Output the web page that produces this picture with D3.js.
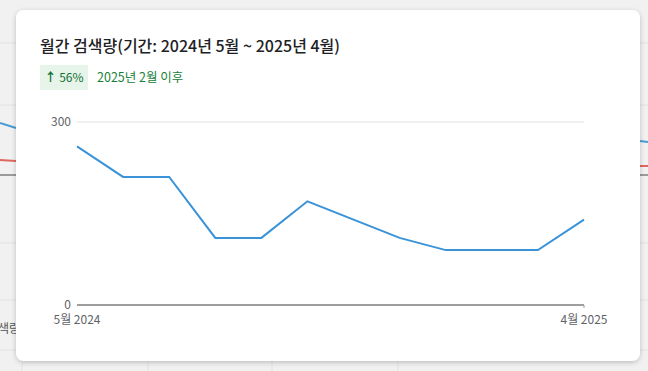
<!DOCTYPE html>
<html>
<head>
<meta charset="utf-8">
<script src="https://cdn.jsdelivr.net/npm/d3@7"></script>
<style>
  html, body { margin: 0; padding: 0; background: #f1f1f1; }
  svg { display: block; font-family: "Noto Sans CJK KR", "Noto Sans", sans-serif; }
</style>
</head>
<body>
<svg id="chart" width="648" height="371"></svg>
<script>
// monthly search volume, May 2024 .. Apr 2025
var months = ["2024-05","2024-06","2024-07","2024-08","2024-09","2024-10","2024-11","2024-12","2025-01","2025-02","2025-03","2025-04"];
var volume = [260, 210, 210, 110, 110, 170, 140, 110, 90, 90, 90, 140];
var yTicks = [0, 300];
var xTickLabels = ["5월 2024", "4월 2025"];

var title = "월간 검색량(기간: 2024년 5월 ~ 2025년 4월)";
var badgeArrow = "↑", badgeText = "56%";
var sinceText = "2025년 2월 이후";

var W = 648, H = 371;
var svg = d3.select('#chart');

// page behind the card (faded)
var bg = svg.append('g');
bg.append('rect').attr('width', W).attr('height', H).attr('fill', '#f1f1f1');
[43, 105, 243, 300, 350].forEach(function(y){
  bg.append('line').attr('x1', 0).attr('x2', W).attr('y1', y).attr('y2', y)
    .attr('stroke', '#e2e2e2');
});
[22, 148, 272, 398].forEach(function(x){
  bg.append('line').attr('x1', x).attr('x2', x).attr('y1', 350).attr('y2', H)
    .attr('stroke', '#e2e2e2');
});
bg.append('path').attr('d', 'M0,123 L16,128').attr('stroke', '#4a9bd6').attr('stroke-width', 2).attr('fill', 'none');
bg.append('path').attr('d', 'M640,141 L648,142').attr('stroke', '#4a9bd6').attr('stroke-width', 2).attr('fill', 'none');
bg.append('path').attr('d', 'M0,160 L16,161').attr('stroke', '#e0675f').attr('stroke-width', 2).attr('fill', 'none');
bg.append('path').attr('d', 'M640,166 L648,166').attr('stroke', '#e0675f').attr('stroke-width', 2).attr('fill', 'none');
bg.append('path').attr('d', 'M0,175 L16,175 M640,175 L648,175').attr('stroke', '#9a9a9a').attr('stroke-width', 2).attr('fill', 'none');
bg.append('text').attr('x', -2).attr('y', 333).attr('font-size', 12).attr('fill', '#555').text('색량');

// card
var defs = svg.append('defs');
var f = defs.append('filter').attr('id', 'sh').attr('x', '-5%').attr('y', '-5%').attr('width', '110%').attr('height', '115%');
f.append('feDropShadow').attr('dx', 0).attr('dy', 1.5).attr('stdDeviation', 2.5)
  .attr('flood-color', '#000').attr('flood-opacity', 0.22);
svg.append('rect').attr('x', 16).attr('y', 10).attr('width', 624).attr('height', 351)
  .attr('rx', 8).attr('fill', '#fff').attr('filter', 'url(#sh)');

svg.append('text').attr('x', 40).attr('y', 52).attr('font-size', 16).attr('font-weight', 500)
  .attr('fill', '#202124').text(title);

svg.append('rect').attr('x', 40).attr('y', 65).attr('width', 48).attr('height', 25)
  .attr('fill', '#e6f4ea');
var bt = svg.append('text').attr('x', 64).attr('y', 82).attr('text-anchor', 'middle')
  .attr('font-size', 12).attr('fill', '#137333');
bt.append('tspan').attr('font-weight', 700).text(badgeArrow);
bt.append('tspan').text(' ' + badgeText);
svg.append('text').attr('x', 97).attr('y', 82)
  .attr('font-size', 12.5).attr('fill', '#188038').text(sinceText);

// chart
var x = d3.scalePoint().domain(months).range([77, 584]);
var y = d3.scaleLinear().domain([0, 300]).range([305, 122]);

var g = svg.append('g');
g.selectAll('line.grid').data(yTicks.filter(function(d){ return d > 0; }))
  .enter().append('line').attr('class', 'grid')
  .attr('x1', 77).attr('x2', 584)
  .attr('y1', function(d){ return y(d); }).attr('y2', function(d){ return y(d); })
  .attr('stroke', '#ebebeb').attr('stroke-width', 1.5);

g.selectAll('text.ytick').data(yTicks).enter().append('text').attr('class', 'ytick')
  .attr('x', 71).attr('y', function(d){ return y(d); }).attr('dy', '0.32em')
  .attr('text-anchor', 'end').attr('font-size', 12).attr('fill', '#5f6368')
  .text(function(d){ return d; });

g.append('line').attr('x1', 77).attr('x2', 584).attr('y1', y(0)).attr('y2', y(0))
  .attr('stroke', '#9e9e9e').attr('stroke-width', 2);
g.append('line').attr('x1', 584).attr('x2', 584).attr('y1', y(0)).attr('y2', y(0) + 3)
  .attr('stroke', '#9e9e9e').attr('stroke-width', 1);

var ends = [months[0], months[months.length - 1]];
g.selectAll('text.xtick').data(ends).enter().append('text').attr('class', 'xtick')
  .attr('x', function(d){ return x(d); }).attr('y', 324)
  .attr('text-anchor', 'middle').attr('font-size', 12).attr('fill', '#5f6368')
  .text(function(d, i){ return xTickLabels[i]; });

var line = d3.line().x(function(d, i){ return x(months[i]); }).y(function(d){ return y(d); });
g.append('path').datum(volume).attr('d', line)
  .attr('fill', 'none').attr('stroke', '#3a93d8').attr('stroke-width', 2);
</script>
</body>
</html>
